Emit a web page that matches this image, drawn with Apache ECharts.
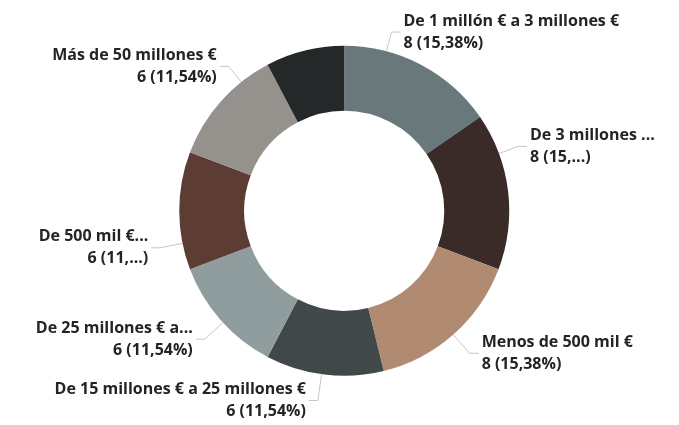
<!DOCTYPE html>
<html>
<head>
<meta charset="utf-8">
<script src="https://cdn.jsdelivr.net/npm/echarts@6/dist/echarts.min.js"></script>
<style>
  html, body { margin: 0; padding: 0; background: #fff; }
  #chart { width: 679px; height: 425px; }
</style>
</head>
<body>
<div id="chart"></div>
<script>
// tramos de facturación, en el orden de las agujas del reloj desde arriba
var categories = [
  'De 1 millón € a 3 millones €',
  'De 3 millones ...',
  'Menos de 500 mil €',
  'De 15 millones € a 25 millones €',
  'De 25 millones € a...',
  'De 500 mil €...',
  'Más de 50 millones €',
  'De 5 millones € a 15 millones €'
];
var values = [8, 8, 8, 6, 6, 6, 6, 4];
// etiquetas recortadas en la segunda línea y etiqueta oculta
var cutPct = [false, true, false, false, false, true, false, false];
var hidden = [false, false, false, false, false, false, false, true];
var colors = ['#68787b', '#3a2b29', '#b08b72', '#414849', '#8f9d9f', '#5d3c33', '#95918c', '#242829'];
// desplazamiento de cada etiqueta respecto a la posición por defecto
var labelDx = [-38, -5, 5, -2, -4, -4, 20, 0];
var labelDy = [-22, -43, 10, 14, 11, 37, -27, 0];

var center = [0.507, 0.496];
var outerR = 165;

var total = values.reduce(function (a, b) { return a + b; }, 0);

function pctText(v, cut) {
  var p = (v / total * 100).toFixed(2).replace('.', ',');
  if (cut) return v + ' (' + p.split(',')[0] + ',...)';
  return v + ' (' + p + '%)';
}

var chart = echarts.init(document.getElementById('chart'));
var cx = chart.getWidth() * center[0];
var cy = chart.getHeight() * center[1];

// recalcula la línea guía hasta la etiqueta desplazada
function guide(p) {
  var i = p.dataIndex;
  var r = p.labelRect;
  var nx = r.x + labelDx[i], ny = r.y + labelDy[i];
  var right = nx > cx;
  var end = [right ? nx - 3 : nx + r.width + 3, ny + r.height / 2];
  var elbow = [right ? end[0] - 9 : end[0] + 9, end[1]];
  var ax = elbow[0] - cx, ay = elbow[1] - cy;
  var d = Math.sqrt(ax * ax + ay * ay);
  var start = [cx + ax / d * outerR, cy + ay / d * outerR];
  return [start, elbow, end];
}

chart.setOption({
  animation: false,
  series: [{
    type: 'pie',
    center: [center[0] * 100 + '%', center[1] * 100 + '%'],
    radius: [100, outerR],
    startAngle: 90,
    avoidLabelOverlap: false,
    label: {
      show: true,
      position: 'outside',
      fontFamily: 'Open Sans',
      fontWeight: 'bold',
      fontSize: 16,
      color: '#252423',
      lineHeight: 22,
      formatter: function (p) {
        return p.name + '\n' + pctText(p.value, cutPct[p.dataIndex]);
      }
    },
    labelLine: {
      show: true,
      length: 12,
      length2: 10,
      lineStyle: { color: '#c8c6c4', width: 1 }
    },
    labelLayout: function (p) {
      return {
        dx: labelDx[p.dataIndex],
        dy: labelDy[p.dataIndex],
        labelLinePoints: guide(p)
      };
    },
    data: categories.map(function (c, i) {
      return {
        name: c,
        value: values[i],
        itemStyle: { color: colors[i] },
        label: { show: !hidden[i] },
        labelLine: { show: !hidden[i] }
      };
    })
  }]
});
</script>
</body>
</html>
